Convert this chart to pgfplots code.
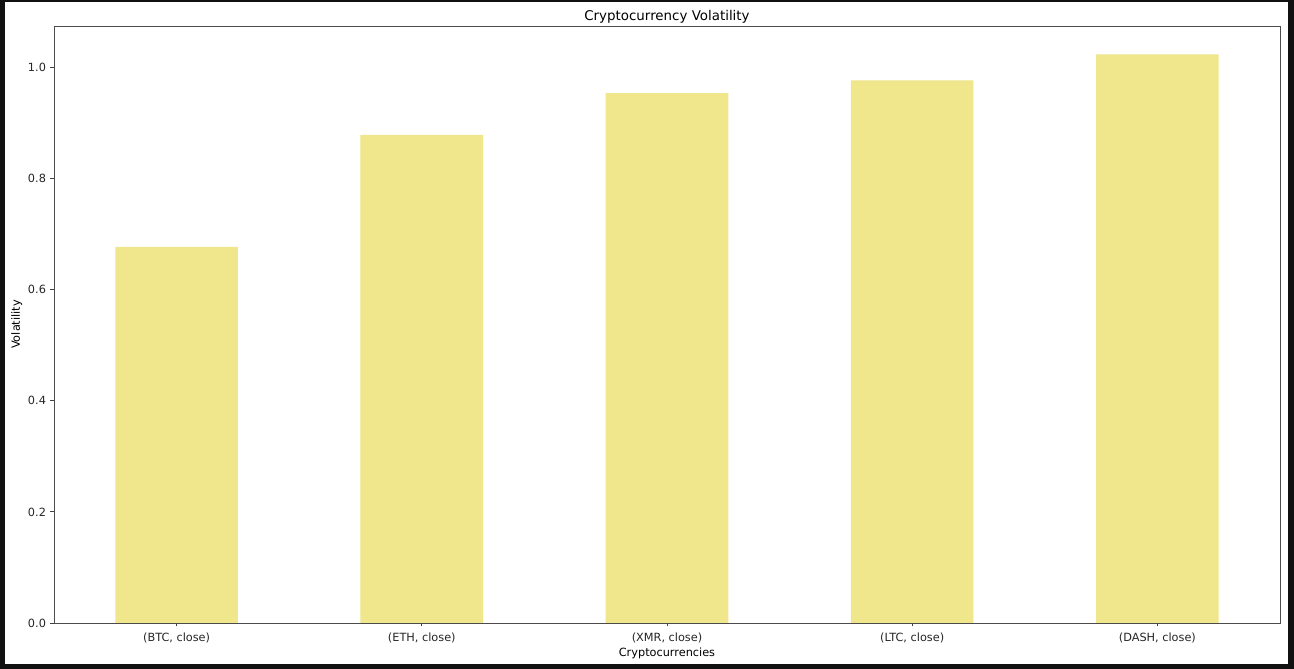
\documentclass[border=0pt]{standalone}
\usepackage{pgfplots}
\pgfplotsset{compat=1.18}
\usepackage{fontspec}
\setmainfont{DejaVu Sans}
\definecolor{khaki}{HTML}{F0E68C}
\definecolor{frame}{HTML}{111111}
\begin{document}
\begin{tikzpicture}[x=1pt,y=1pt]
\fill[frame] (0,0) rectangle (1294,669);
\fill[white] (5,5) rectangle (1288,667);
\useasboundingbox (0,0) rectangle (1294,669);
\begin{axis}[
  at={(54pt,46pt)}, anchor=south west,
  scale only axis, width=1226pt, height=597pt,
  xmin=-0.5, xmax=4.5, ymin=0, ymax=1.0747,
  xtick={0,1,2,3,4},
  xticklabels={{(BTC, close)},{(ETH, close)},{(XMR, close)},{(LTC, close)},{(DASH, close)}},
  ytick={0,0.2,0.4,0.6,0.8,1.0},
  yticklabel style={/tikz/xshift=-1pt, /pgf/number format/fixed, /pgf/number format/fixed zerofill, /pgf/number format/precision=1},
  /pgf/number format/assume math mode=true,
  tick align=outside, tick pos=left,
  major tick length=3.5pt,
  tick style={black!75, line width=0.8pt},
  axis line style={black!70, line width=0.8pt},
  ticklabel style={font=\fontsize{11.3pt}{13pt}\selectfont, black!85},
  xticklabel style={/tikz/yshift=-3pt},
  title={Cryptocurrency Volatility},
  title style={font=\fontsize{13.4pt}{15pt}\selectfont, anchor=base, at={(0.5,1)}, yshift=-1pt},
  xlabel={Cryptocurrencies}, ylabel={Volatility},
  label style={font=\fontsize{11.3pt}{13pt}\selectfont},
  xlabel style={yshift=2pt},
  ylabel style={yshift=-1pt},
]
\addplot[ybar, bar width=122.6pt, fill=khaki, draw=none, bar shift=0pt]
  coordinates {(0,0.677) (1,0.8785) (2,0.954) (3,0.977) (4,1.0235)};
\end{axis}
\end{tikzpicture}
\end{document}
